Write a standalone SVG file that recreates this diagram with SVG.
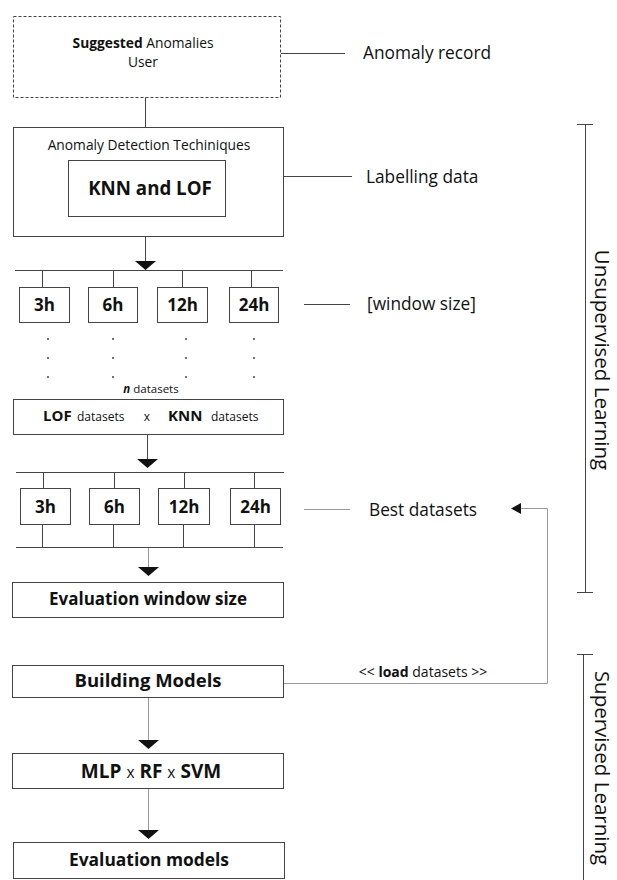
<svg xmlns="http://www.w3.org/2000/svg" width="617" height="880" viewBox="0 0 617 880">
<defs>
<style>
text{font-family:"Open Sans","Noto Sans","Liberation Sans",sans-serif;fill:#111}
.b{font-weight:bold}
.box{fill:#fff;stroke:#444;stroke-width:1}
.ln{fill:none;stroke:#444;stroke-width:1}
.lg{fill:none;stroke:#999;stroke-width:1}
.ah{fill:#111}
.h{font-size:17px;font-weight:bold;text-anchor:middle}
.lab{font-size:17.3px}
.side{font-size:20.5px;text-anchor:middle}
</style>
</defs>
<rect width="617" height="880" fill="#fff"/>

<g id="connectors">
<line class="ln" x1="145.5" y1="97" x2="145.5" y2="127"/>
<line class="ln" x1="145.5" y1="237" x2="145.5" y2="262"/>
<polygon class="ah" points="135,261 156,261 145.5,270"/>
<line class="ln" x1="15" y1="270.5" x2="283" y2="270.5"/>
<line class="ln" x1="42.5" y1="270" x2="42.5" y2="287"/>
<line class="ln" x1="113.5" y1="270" x2="113.5" y2="287"/>
<line class="ln" x1="182.5" y1="270" x2="182.5" y2="287"/>
<line class="ln" x1="251.5" y1="270" x2="251.5" y2="287"/>
<line class="ln" x1="147.5" y1="435" x2="147.5" y2="460"/>
<polygon class="ah" points="137,459 158,459 147.5,468"/>
<line class="ln" x1="16" y1="472.5" x2="284" y2="472.5"/>
<line class="ln" x1="43.5" y1="472" x2="43.5" y2="488"/>
<line class="ln" x1="114.5" y1="472" x2="114.5" y2="488"/>
<line class="ln" x1="184.5" y1="472" x2="184.5" y2="488"/>
<line class="ln" x1="254.5" y1="472" x2="254.5" y2="488"/>
<line class="ln" x1="42.5" y1="525" x2="42.5" y2="547"/>
<line class="ln" x1="113.5" y1="525" x2="113.5" y2="547"/>
<line class="ln" x1="183.5" y1="525" x2="183.5" y2="547"/>
<line class="ln" x1="254.5" y1="525" x2="254.5" y2="547"/>
<line class="ln" x1="16" y1="547.5" x2="283" y2="547.5"/>
<line class="lg" x1="148.5" y1="548" x2="148.5" y2="568"/>
<polygon class="ah" points="138,567 159,567 148.5,576"/>
<line class="lg" x1="148.5" y1="698" x2="148.5" y2="741"/>
<polygon class="ah" points="138,740 159,740 148.5,749"/>
<line class="lg" x1="148.5" y1="789" x2="148.5" y2="831"/>
<polygon class="ah" points="138,830 159,830 148.5,839"/>
<line class="ln" x1="281" y1="53.5" x2="345" y2="53.5"/>
<line class="ln" x1="284" y1="176.5" x2="352" y2="176.5"/>
<line class="ln" x1="304" y1="304.5" x2="350" y2="304.5"/>
<line class="lg" x1="304" y1="509.5" x2="350" y2="509.5"/>
<polyline class="lg" points="284,683.5 547.5,683.5 547.5,508.5 520,508.5"/>
<polygon class="ah" points="521,503 521,514 511,508.5"/>
</g>

<g id="anomaly-record">
<rect x="13.5" y="16.5" width="267" height="81" fill="#fff" stroke="#444" stroke-dasharray="3,2"/>
<text x="143" y="48" font-size="13.8" text-anchor="middle"><tspan class="b">Suggested</tspan> Anomalies</text>
<text x="143" y="67" font-size="13.8" text-anchor="middle">User</text>
</g>

<g id="detection">
<rect class="box" x="13.5" y="127.5" width="270" height="109"/>
<text x="149" y="150" font-size="13.8" text-anchor="middle">Anomaly Detection Techiniques</text>
<rect class="box" x="68.5" y="160.5" width="157" height="56"/>
<text x="150" y="195" font-size="18.7" class="b" text-anchor="middle">KNN and LOF</text>
</g>

<g id="windows1">
<rect class="box" x="19.5" y="287.5" width="50" height="35"/>
<rect class="box" x="88.5" y="287.5" width="49" height="35"/>
<rect class="box" x="157.5" y="287.5" width="50" height="35"/>
<rect class="box" x="229.5" y="287.5" width="49" height="35"/>
<text class="h" x="44.5" y="311">3h</text>
<text class="h" x="113" y="311">6h</text>
<text class="h" x="182.5" y="311">12h</text>
<text class="h" x="254" y="311">24h</text>
</g>

<g id="dots" fill="#333">
<circle cx="48" cy="339" r="0.9"/><circle cx="48" cy="358" r="0.9"/><circle cx="48" cy="377" r="0.9"/>
<circle cx="113" cy="339" r="0.9"/><circle cx="113" cy="358" r="0.9"/><circle cx="113" cy="377" r="0.9"/>
<circle cx="186" cy="339" r="0.9"/><circle cx="186" cy="358" r="0.9"/><circle cx="186" cy="377" r="0.9"/>
<circle cx="254" cy="339" r="0.9"/><circle cx="254" cy="358" r="0.9"/><circle cx="254" cy="377" r="0.9"/>
<text x="151" y="393" font-size="11.5" text-anchor="middle"><tspan class="b" font-style="italic">n</tspan> datasets</text>
</g>

<g id="lof-knn">
<rect class="box" x="13.5" y="399.5" width="270" height="35"/>
<text x="43" y="421" font-size="15" class="b">LOF</text>
<text x="77" y="421" font-size="12">datasets</text>
<text x="147" y="421" font-size="12" text-anchor="middle">x</text>
<text x="168" y="421" font-size="15" class="b">KNN</text>
<text x="211" y="421" font-size="12">datasets</text>
</g>

<g id="windows2">
<rect class="box" x="20.5" y="488.5" width="50" height="36"/>
<rect class="box" x="89.5" y="488.5" width="50" height="36"/>
<rect class="box" x="158.5" y="488.5" width="51" height="36"/>
<rect class="box" x="230.5" y="488.5" width="50" height="36"/>
<text class="h" x="45.5" y="513">3h</text>
<text class="h" x="114.5" y="513">6h</text>
<text class="h" x="184" y="513">12h</text>
<text class="h" x="255.5" y="513">24h</text>
</g>

<g id="eval-window">
<rect class="box" x="12.5" y="582.5" width="271" height="35"/>
<text x="148" y="605" font-size="17" class="b" text-anchor="middle">Evaluation window size</text>
</g>

<g id="building">
<rect class="box" x="12.5" y="665.5" width="271" height="32"/>
<text x="148" y="687" font-size="18.5" class="b" text-anchor="middle">Building Models</text>
</g>

<g id="models">
<rect class="box" x="12.5" y="753.5" width="271" height="35"/>
<text x="151" y="778" font-size="19" text-anchor="middle"><tspan class="b">MLP</tspan> <tspan font-size="15.5">x</tspan> <tspan class="b">RF</tspan> <tspan font-size="15.5">x</tspan> <tspan class="b">SVM</tspan></text>
</g>

<g id="eval-models">
<rect class="box" x="13.5" y="842.5" width="271" height="36"/>
<text x="149" y="866" font-size="17.4" class="b" text-anchor="middle">Evaluation models</text>
</g>

<g id="labels">
<text class="lab" x="363" y="59">Anomaly record</text>
<text class="lab" x="366" y="183">Labelling data</text>
<text class="lab" x="367" y="310">[window size]</text>
<text class="lab" x="369" y="516">Best datasets</text>
<text x="423" y="677" font-size="14" text-anchor="middle">&lt;&lt; <tspan class="b">load</tspan> datasets &gt;&gt;</text>
</g>

<g id="unsupervised">
<line class="ln" x1="577" y1="124.5" x2="593" y2="124.5"/>
<line class="ln" x1="585.5" y1="124" x2="585.5" y2="592"/>
<line class="ln" x1="577" y1="592.5" x2="593" y2="592.5"/>
<text class="side" transform="translate(595,360) rotate(90)">Unsupervised Learning</text>
</g>

<g id="supervised">
<line class="ln" x1="577" y1="654.5" x2="593" y2="654.5"/>
<line class="ln" x1="583.5" y1="654" x2="583.5" y2="880"/>
<text class="side" transform="translate(595,768) rotate(90)">Supervised Learning</text>
</g>
</svg>
